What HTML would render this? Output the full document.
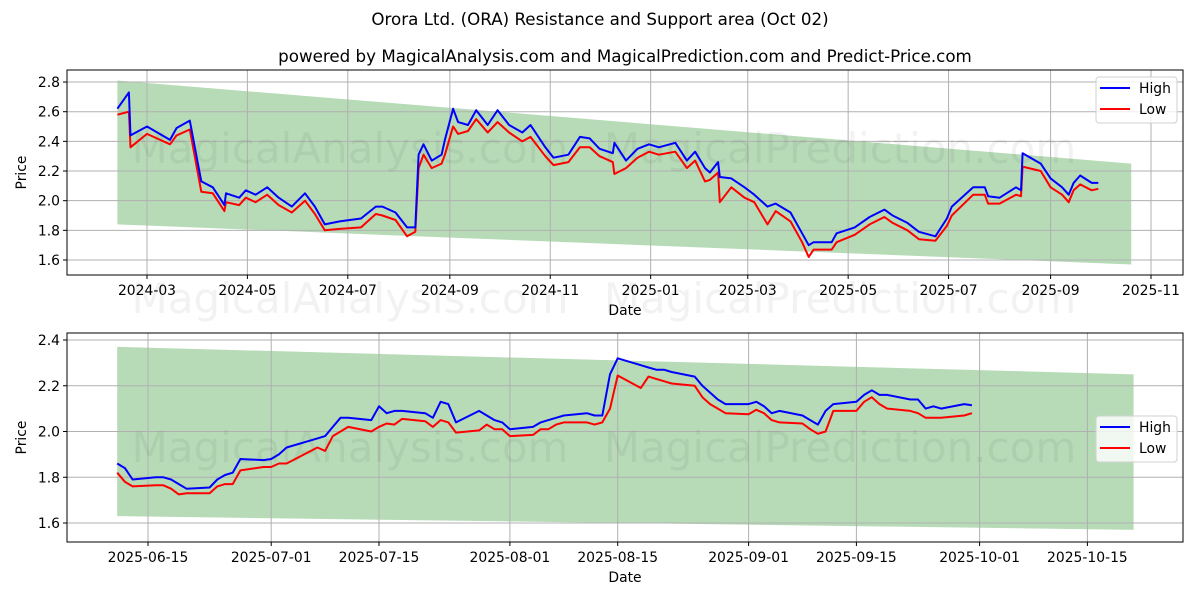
<!DOCTYPE html>
<html><head><meta charset="utf-8"><style>
html,body{margin:0;padding:0;background:#fff;}
svg{display:block;font-family:"DejaVu Sans","Liberation Sans",sans-serif;}
</style></head><body>
<svg id="chart" width="1200" height="600" xmlns="http://www.w3.org/2000/svg">
<text x="600" y="25" font-size="16.7" text-anchor="middle">Orora Ltd. (ORA) Resistance and Support area (Oct 02)</text>
<text x="625" y="62" font-size="16.7" text-anchor="middle">powered by MagicalAnalysis.com and MagicalPrediction.com and Predict-Price.com</text>
<g id="top"></g>
<g id="bot"></g>
</svg>
<script>
// ---- top chart data ----
const topDates = ["2024-02-12","2024-02-19","2024-02-20","2024-03-01","2024-03-15","2024-03-19","2024-03-27","2024-04-03","2024-04-10","2024-04-17","2024-04-18","2024-04-26","2024-04-30","2024-05-06","2024-05-13","2024-05-20","2024-05-28","2024-06-05","2024-06-11","2024-06-17","2024-06-26","2024-07-09","2024-07-18","2024-07-22","2024-07-30","2024-08-06","2024-08-11","2024-08-13","2024-08-16","2024-08-21","2024-08-27","2024-08-29","2024-09-03","2024-09-06","2024-09-12","2024-09-17","2024-09-24","2024-09-30","2024-10-07","2024-10-15","2024-10-20","2024-10-29","2024-11-03","2024-11-12","2024-11-19","2024-11-25","2024-12-01","2024-12-09","2024-12-10","2024-12-17","2024-12-24","2024-12-31","2025-01-06","2025-01-16","2025-01-23","2025-01-28","2025-02-03","2025-02-06","2025-02-11","2025-02-12","2025-02-19","2025-02-27","2025-03-05","2025-03-13","2025-03-18","2025-03-27","2025-04-03","2025-04-07","2025-04-10","2025-04-21","2025-04-24","2025-05-05","2025-05-14","2025-05-23","2025-05-28","2025-06-06","2025-06-13","2025-06-23","2025-06-30","2025-07-03","2025-07-16","2025-07-23","2025-07-25","2025-08-01","2025-08-11","2025-08-14","2025-08-15","2025-08-26","2025-09-01","2025-09-08","2025-09-12","2025-09-15","2025-09-19","2025-09-26","2025-09-30"];
const topHigh = [2.62,2.73,2.44,2.50,2.41,2.49,2.54,2.13,2.09,1.97,2.05,2.02,2.07,2.04,2.09,2.02,1.96,2.05,1.96,1.84,1.86,1.88,1.96,1.96,1.92,1.82,1.82,2.31,2.38,2.27,2.31,2.41,2.62,2.53,2.51,2.61,2.51,2.61,2.51,2.46,2.51,2.36,2.29,2.31,2.43,2.42,2.35,2.32,2.39,2.27,2.35,2.38,2.36,2.39,2.27,2.33,2.22,2.19,2.26,2.16,2.15,2.09,2.04,1.96,1.98,1.92,1.78,1.70,1.72,1.72,1.78,1.82,1.89,1.94,1.90,1.85,1.79,1.76,1.88,1.96,2.09,2.09,2.03,2.02,2.09,2.07,2.32,2.25,2.15,2.09,2.04,2.12,2.17,2.12,2.12];
const topLow = [2.58,2.60,2.36,2.45,2.38,2.44,2.48,2.06,2.05,1.93,1.99,1.97,2.02,1.99,2.04,1.97,1.92,2.00,1.91,1.80,1.81,1.82,1.91,1.90,1.87,1.76,1.79,2.22,2.31,2.22,2.25,2.31,2.50,2.45,2.47,2.55,2.46,2.53,2.46,2.40,2.43,2.30,2.24,2.26,2.36,2.36,2.30,2.26,2.18,2.22,2.29,2.33,2.31,2.33,2.22,2.27,2.13,2.14,2.19,1.99,2.09,2.02,1.99,1.84,1.93,1.86,1.72,1.62,1.67,1.67,1.72,1.77,1.84,1.89,1.85,1.80,1.74,1.73,1.83,1.90,2.04,2.04,1.98,1.98,2.04,2.03,2.23,2.20,2.09,2.04,1.99,2.07,2.11,2.07,2.08];
const topBandDates = ["2024-02-12","2025-10-20"];
const topBandUpper = [2.81,2.25];
const topBandLower = [1.84,1.57];
const topYTicks = [1.6,1.8,2.0,2.2,2.4,2.6,2.8];
const topXTicks = ["2024-03-01","2024-05-01","2024-07-01","2024-09-01","2024-11-01","2025-01-01","2025-03-01","2025-05-01","2025-07-01","2025-09-01","2025-11-01"];
const topXLabels = ["2024-03","2024-05","2024-07","2024-09","2024-11","2025-01","2025-03","2025-05","2025-07","2025-09","2025-11"];

// ---- bottom chart data ----
const botDates = ["2025-06-11","2025-06-12","2025-06-13","2025-06-16","2025-06-17","2025-06-18","2025-06-19","2025-06-20","2025-06-23","2025-06-24","2025-06-25","2025-06-26","2025-06-27","2025-06-30","2025-07-01","2025-07-02","2025-07-03","2025-07-07","2025-07-08","2025-07-09","2025-07-10","2025-07-11","2025-07-14","2025-07-15","2025-07-16","2025-07-17","2025-07-18","2025-07-21","2025-07-22","2025-07-23","2025-07-24","2025-07-25","2025-07-28","2025-07-29","2025-07-30","2025-07-31","2025-08-01","2025-08-04","2025-08-05","2025-08-06","2025-08-07","2025-08-08","2025-08-11","2025-08-12","2025-08-13","2025-08-14","2025-08-15","2025-08-18","2025-08-19","2025-08-20","2025-08-21","2025-08-22","2025-08-25","2025-08-26","2025-08-27","2025-08-28","2025-08-29","2025-09-01","2025-09-02","2025-09-03","2025-09-04","2025-09-05","2025-09-08","2025-09-09","2025-09-10","2025-09-11","2025-09-12","2025-09-15","2025-09-16","2025-09-17","2025-09-18","2025-09-19","2025-09-22","2025-09-23","2025-09-24","2025-09-25","2025-09-26","2025-09-29","2025-09-30"];
const botHigh = [1.86,1.84,1.79,1.80,1.80,1.79,1.77,1.75,1.755,1.79,1.81,1.82,1.88,1.875,1.88,1.90,1.93,1.97,1.98,2.02,2.06,2.06,2.05,2.11,2.08,2.09,2.09,2.08,2.06,2.13,2.12,2.04,2.09,2.07,2.05,2.04,2.01,2.02,2.04,2.05,2.06,2.07,2.08,2.07,2.07,2.25,2.32,2.29,2.28,2.27,2.27,2.26,2.24,2.20,2.17,2.14,2.12,2.12,2.13,2.11,2.08,2.09,2.07,2.05,2.03,2.09,2.12,2.13,2.16,2.18,2.16,2.16,2.14,2.14,2.10,2.11,2.10,2.12,2.115];
const botLow = [1.82,1.78,1.76,1.765,1.765,1.75,1.725,1.73,1.73,1.76,1.77,1.77,1.83,1.845,1.845,1.86,1.86,1.93,1.915,1.98,2.00,2.02,2.00,2.02,2.035,2.03,2.055,2.045,2.02,2.05,2.04,1.995,2.005,2.03,2.01,2.01,1.98,1.985,2.01,2.01,2.03,2.04,2.04,2.03,2.04,2.10,2.245,2.19,2.24,2.23,2.22,2.21,2.20,2.15,2.12,2.10,2.08,2.075,2.095,2.08,2.05,2.04,2.035,2.01,1.99,2.00,2.09,2.09,2.13,2.15,2.12,2.10,2.09,2.08,2.06,2.06,2.06,2.07,2.08];
const botBandDates = ["2025-06-11","2025-10-21"];
const botBandUpper = [2.37,2.25];
const botBandLower = [1.63,1.57];
const botYTicks = [1.6,1.8,2.0,2.2,2.4];
const botXTicks = ["2025-06-15","2025-07-01","2025-07-15","2025-08-01","2025-08-15","2025-09-01","2025-09-15","2025-10-01","2025-10-15"];

const NS="http://www.w3.org/2000/svg";
const DAY=86400000;
function t(s){const p=s.split("-");return Date.UTC(+p[0],p[1]-1,+p[2])/DAY;}
function mk(parent,tag,attrs,txt){const e=document.createElementNS(NS,tag);for(const k in attrs)e.setAttribute(k,attrs[k]);if(txt!==undefined)e.textContent=txt;parent.appendChild(e);return e;}

function panel(g,cfg){
  const {L,R,T,B,x0d,x0px,pxPerDay,y0v,y0px,pxPerUnit}=cfg;
  const X=d=>x0px+(t(d)-t(x0d))*pxPerDay;
  const Y=v=>y0px-(v-y0v)*pxPerUnit;
  const bd=cfg.bandDates;
  const band=mk(g,"polygon",{points:`${X(bd[0])},${Y(cfg.bandU[0])} ${X(bd[1])},${Y(cfg.bandU[1])} ${X(bd[1])},${Y(cfg.bandL[1])} ${X(bd[0])},${Y(cfg.bandL[0])}`,fill:"#b7dbb7"});
  
  
  cfg.yTicks.forEach(v=>{
    const y=Y(v);
    const gl=mk(g,"line",{x1:L,x2:R,y1:y,y2:y,stroke:"#b0b0b0","stroke-width":1});
    
    
    mk(g,"line",{x1:L-4,x2:L,y1:y,y2:y,stroke:"#000"});
    const tl=mk(g,"text",{x:L-7,y:y+5,"font-size":13.9,"text-anchor":"end"},v.toFixed(1));
    
    
  });
  cfg.xTicks.forEach((d,i)=>{
    const x=X(d);
    const gl=mk(g,"line",{x1:x,x2:x,y1:T,y2:B,stroke:"#b0b0b0","stroke-width":1});
    
    
    mk(g,"line",{x1:x,x2:x,y1:B,y2:B+4,stroke:"#000"});
    const tl=mk(g,"text",{x:x,y:B+20,"font-size":13.9,"text-anchor":"middle"},cfg.xLabels[i]);
    
    
  });
  cfg.wm.forEach(w=>{
    const e=mk(g,"text",{x:w[0],y:w[1],"font-size":42,"text-anchor":"middle",fill:"#000","fill-opacity":0.05},w[2]);
    
    
  });
  const line=(vals,col,name)=>{
    const pts=cfg.dates.map((d,i)=>X(d).toFixed(1)+","+Y(vals[i]).toFixed(1)).join(" ");
    const p=mk(g,"polyline",{points:pts,fill:"none",stroke:col,"stroke-width":2,"stroke-linejoin":"round"});
    
    
  };
  line(cfg.low,"#ff0000","low-line");
  line(cfg.high,"#0000ff","high-line");
  const fr=mk(g,"rect",{x:L,y:T,width:R-L,height:B-T,fill:"none",stroke:"#000","stroke-width":1});
  
  
  const xt=mk(g,"text",{x:(L+R)/2,y:B+40,"font-size":13.9,"text-anchor":"middle"},"Date");
  
  
  const yt=mk(g,"text",{x:0,y:0,"font-size":13.9,"text-anchor":"middle",transform:`translate(26,${(T+B)/2}) rotate(-90)`},"Price");
  
  
  const lg=mk(g,"g",{});
  
  
  const ly=cfg.legendY;
  mk(lg,"rect",{x:1096,y:ly,width:81,height:46,rx:3,fill:"#fff","fill-opacity":0.8,stroke:"#d0d0d0"});
  const e1=mk(lg,"line",{x1:1100,x2:1130,y1:ly+11,y2:ly+11,stroke:"#0000ff","stroke-width":2});
  
  
  mk(lg,"text",{x:1139,y:ly+16,"font-size":13.9},"High");
  const e2=mk(lg,"line",{x1:1100,x2:1130,y1:ly+32,y2:ly+32,stroke:"#ff0000","stroke-width":2});
  
  
  mk(lg,"text",{x:1139,y:ly+37,"font-size":13.9},"Low");
}

panel(document.getElementById("top"),{L:67,R:1183,T:70,B:275,x0d:"2024-03-01",x0px:147,pxPerDay:1.6459,y0v:1.6,y0px:260,pxPerUnit:148.3,
  bandDates:topBandDates,bandU:topBandUpper,bandL:topBandLower,yTicks:topYTicks,xTicks:topXTicks,xLabels:topXLabels,
  dates:topDates,high:topHigh,low:topLow,legendY:77,
  wm:[[350,163,"MagicalAnalysis.com"],[840,163,"MagicalPrediction.com"],[350,313,"MagicalAnalysis.com"],[840,313,"MagicalPrediction.com"]]});
panel(document.getElementById("bot"),{L:67,R:1183,T:333,B:542,x0d:"2025-06-15",x0px:148,pxPerDay:7.70,y0v:1.6,y0px:523,pxPerUnit:228.75,
  bandDates:botBandDates,bandU:botBandUpper,bandL:botBandLower,yTicks:botYTicks,xTicks:botXTicks,xLabels:botXTicks,
  dates:botDates,high:botHigh,low:botLow,legendY:416,
  wm:[[350,462,"MagicalAnalysis.com"],[840,462,"MagicalPrediction.com"]]});
</script>
</body></html>
